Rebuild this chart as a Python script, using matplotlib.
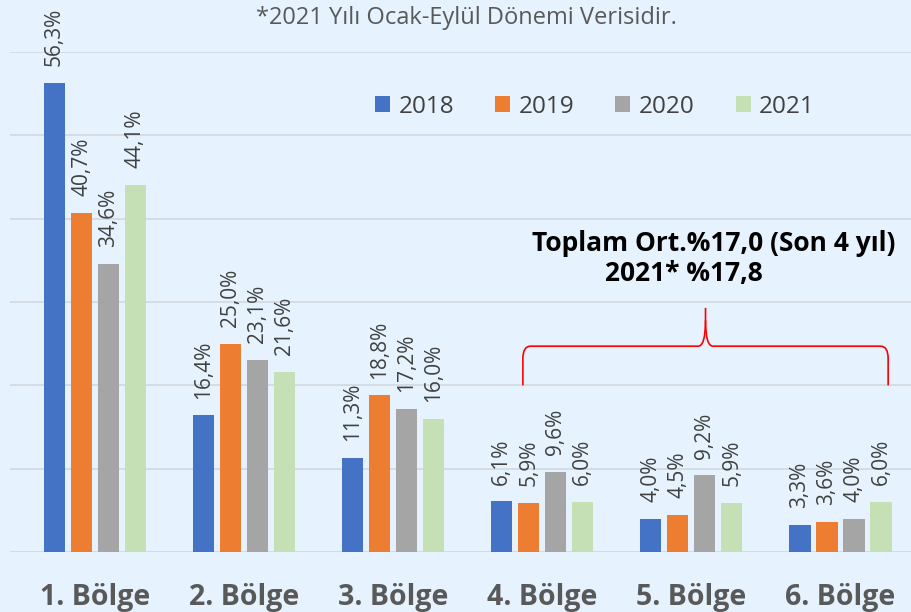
import numpy as np
import matplotlib
matplotlib.use("Agg")
import matplotlib.pyplot as plt
from matplotlib.path import Path
from matplotlib.patches import PathPatch

categories = ["1. Bölge", "2. Bölge", "3. Bölge", "4. Bölge", "5. Bölge", "6. Bölge"]
years = ["2018", "2019", "2020", "2021"]
v2018 = [56.3, 16.4, 11.3, 6.1, 4.0, 3.3]
v2019 = [40.7, 25.0, 18.8, 5.9, 4.5, 3.6]
v2020 = [34.6, 23.1, 17.2, 9.6, 9.2, 4.0]
v2021 = [44.1, 21.6, 16.0, 6.0, 5.9, 6.0]
colors = ["#4472C4", "#ED7D31", "#A5A5A5", "#C5E0B4"]

bg = "#E6F2FD"
plt.rcParams["font.family"] = ["Open Sans", "DejaVu Sans"]

fig = plt.figure(figsize=(9.12, 6.12), dpi=100, facecolor=bg)
ax = fig.add_axes([0.011, 0.098, 0.989, 0.817], facecolor=bg)

x = np.arange(len(categories))
width = 0.142
step = 0.181
series = [v2018, v2019, v2020, v2021]
for i, vals in enumerate(series):
    pos = x + (i - 1.5) * step
    ax.bar(pos, vals, width, color=colors[i], label=years[i], zorder=3)
    for px, v in zip(pos, vals):
        ax.text(px, v + 2.0, ("%.1f%%" % v).replace(".", ","), rotation=90,
                ha="center", va="bottom", fontsize=15, color="#404040", zorder=4)

ax.set_xlim(-0.57, 5.48)
ax.set_ylim(0, 60)
ax.set_yticks(np.arange(10, 61, 10))
ax.yaxis.grid(True, color="#D3D8DE", linewidth=1.2, zorder=0)
ax.axhline(0, color="#D3D8DE", linewidth=2, zorder=2)
ax.tick_params(axis="y", left=False, labelleft=False)
ax.tick_params(axis="x", bottom=False, pad=19)
ax.set_xticks(x)
ax.set_xticklabels(categories, fontsize=20.5, fontweight="bold", color="#595959")
for s in ax.spines.values():
    s.set_visible(False)

leg = ax.legend(loc="upper left", bbox_to_anchor=(0.405, 0.915), ncol=4, frameon=False,
                fontsize=17.5, handlelength=0.62, handleheight=0.62, columnspacing=1.7,
                handletextpad=0.33, labelcolor="#404040", borderaxespad=0, borderpad=0)

fig.text(0.511, 0.970, "*2021 Yılı Ocak-Eylül Dönemi Verisidir.", ha="center", va="center",
         fontsize=17, color="#595959")

# curly brace over groups 4-6
x0, x1 = 2.87, 5.32
xm = (x0 + x1) / 2
yb, yh, yt = 20.0, 24.7, 29.3
r = 0.05
verts = [(x0, yb), (x0, yh - 1.5), (x0, yh), (x0 + r, yh),
         (xm - r, yh), (xm, yh), (xm, yt - 1.5), (xm, yt)]
codes = [Path.MOVETO, Path.LINETO, Path.CURVE3, Path.CURVE3,
         Path.LINETO, Path.CURVE3, Path.CURVE3, Path.LINETO]
ax.add_patch(PathPatch(Path(verts, codes), fill=False, edgecolor="red", lw=1.2, zorder=5))
verts2 = [(x1, yb), (x1, yh - 1.5), (x1, yh), (x1 - r, yh),
          (xm + r, yh), (xm, yh), (xm, yt - 1.5)]
codes2 = [Path.MOVETO, Path.LINETO, Path.CURVE3, Path.CURVE3,
          Path.LINETO, Path.CURVE3, Path.CURVE3]
ax.add_patch(PathPatch(Path(verts2, codes2), fill=False, edgecolor="red", lw=1.2, zorder=5))

ax.text(4.15, 37.0, "Toplam Ort.%17,0 (Son 4 yıl)", ha="center", va="center",
        fontsize=19, fontweight="bold", color="black")
ax.text(3.95, 33.4, "2021* %17,8", ha="center", va="center",
        fontsize=19, fontweight="bold", color="black")

fig.savefig("out.png", dpi=100, facecolor=bg)
